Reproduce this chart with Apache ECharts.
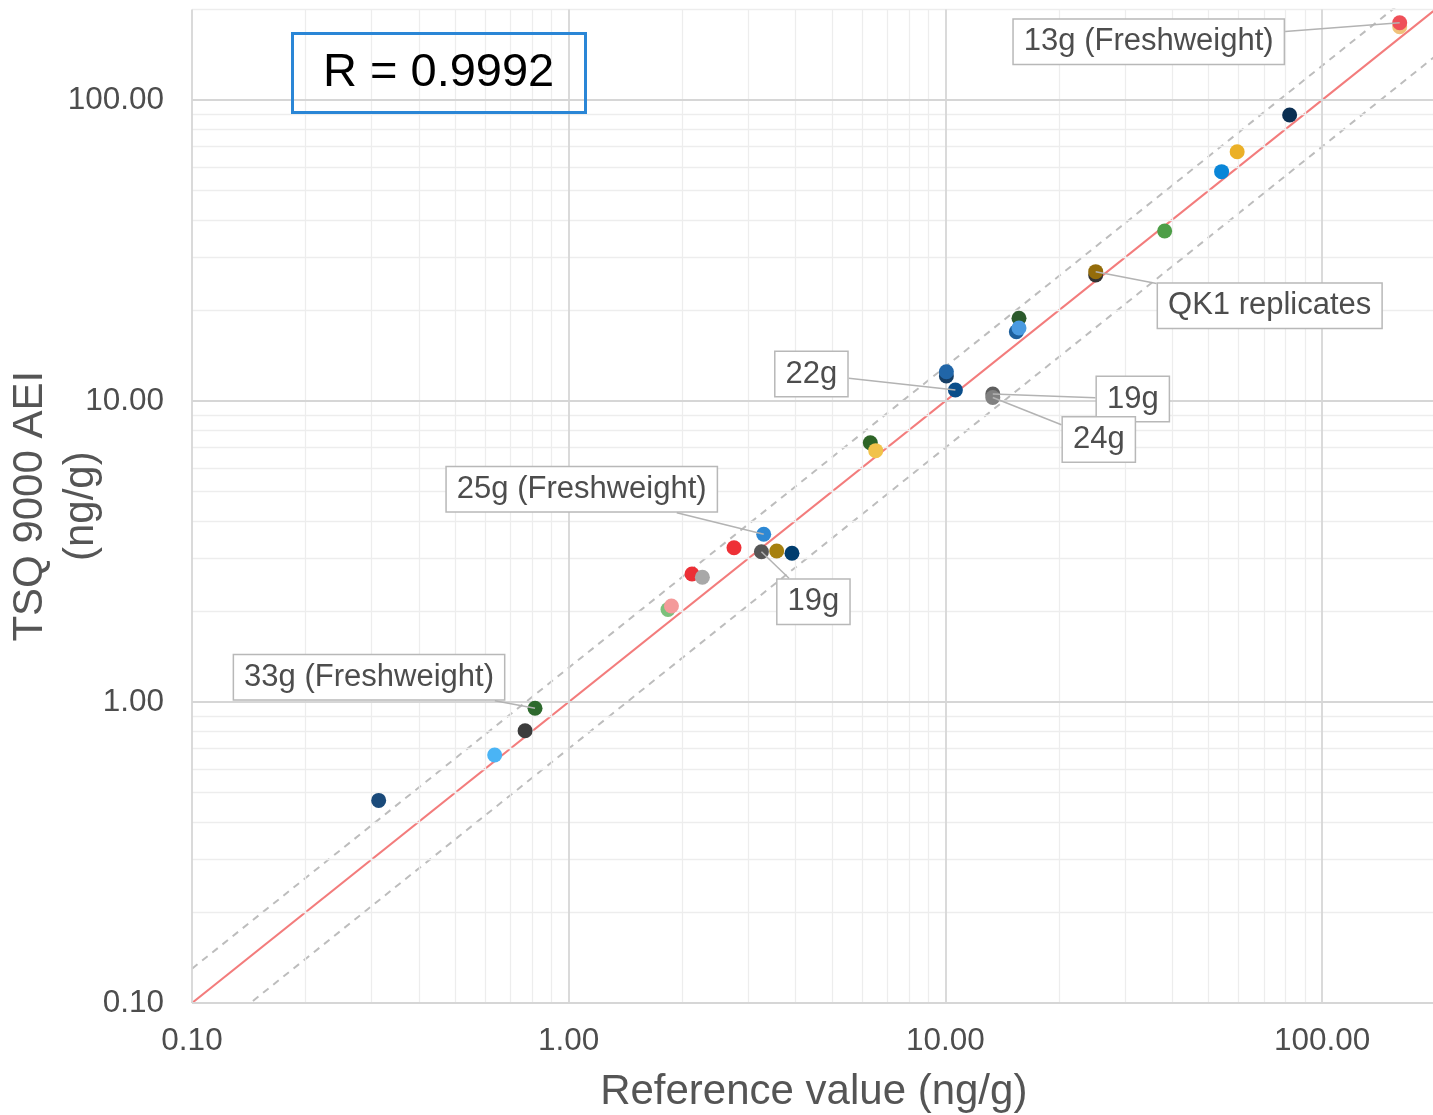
<!DOCTYPE html>
<html>
<head>
<meta charset="utf-8">
<title>TSQ 9000 AEI vs reference value</title>
<script src="https://cdn.jsdelivr.net/npm/echarts@6/dist/echarts.min.js"></script>
<style>
html, body { margin: 0; padding: 0; background: #fff; }
#chart { width: 1433px; height: 1115px; }
</style>
</head>
<body>
<div id="chart"></div>
<script>
// reference value (x) and TSQ 9000 AEI result (y), ng/g
var refValue = [0.313, 0.636, 0.766, 0.814, 1.835, 1.874, 2.125, 2.264, 2.747, 3.294,
    3.248, 3.566, 3.915, 6.32, 6.53, 10.06, 10.06, 10.63, 13.36, 13.36,
    15.43, 15.68, 15.68, 25.06, 25.06, 38.2, 54.1, 59.5, 82.0, 160.7, 160.7];
var aeiValue = [0.471, 0.667, 0.803, 0.953, 2.03, 2.084, 2.662, 2.596, 3.255, 3.607,
    3.158, 3.176, 3.119, 7.27, 6.84, 12.11, 12.51, 10.88, 10.55, 10.27,
    16.99, 18.83, 17.48, 26.22, 26.9, 36.7, 57.8, 67.3, 89.2, 175.2, 180.6];
var pointColors = ['#1a4a7a', '#4ab4f5', '#3c3c3c', '#2e6a2e', '#7cc07c', '#f49a9a', '#ec2f36', '#a8a8a8', '#ee3036', '#2d88d4',
    '#555555', '#a6800e', '#003d6e', '#2d6426', '#f1c24a', '#163f66', '#2166a8', '#0b4e8a', '#5e5e5e', '#808080',
    '#1d5f9c', '#2c5a2c', '#4a9ae0', '#333333', '#946c0a', '#4d9e47', '#0a86d8', '#ebb027', '#0b2f52', '#f0c27a', '#ef5059'];

// annotated points: index -> text
var pointLabels = {
    3: '33g (Freshweight)',
    9: '25g (Freshweight)',
    10: '19g',
    17: '22g',
    18: '19g',
    19: '24g',
    24: 'QK1 replicates',
    30: '13g (Freshweight)'
};
// where each annotation box sits relative to its point (px)
var labelShift = {
    3: [-166, -31],
    9: [-182, -45],
    10: [52, 50],
    17: [-144, -16],
    18: [140, 5],
    19: [106, 42],
    24: [174, 34],
    30: [-251, 19]
};

var majorTicks = [0.1, 1, 10, 100];
var minorTicks = [0.2, 0.3, 0.4, 0.5, 0.6, 0.7, 0.8, 0.9,
    2, 3, 4, 5, 6, 7, 8, 9,
    20, 30, 40, 50, 60, 70, 80, 90, 200];
var lineEnds = [0.1, 200];
var upperFactor = 1.3;
var lowerFactor = 0.7;
var rValue = 'R = 0.9992';

var font = '"Liberation Sans", Arial, sans-serif';
var myChart = echarts.init(document.getElementById('chart'));

var gridLines = [];
minorTicks.forEach(function (v) {
    var st = { color: '#ededed', width: 1.3, type: 'solid' };
    gridLines.push({ xAxis: v, lineStyle: st });
    gridLines.push({ yAxis: v, lineStyle: st });
});
majorTicks.forEach(function (v) {
    var st = { color: '#d6d6d6', width: 1.8, type: 'solid' };
    gridLines.push({ xAxis: v, lineStyle: st });
    gridLines.push({ yAxis: v, lineStyle: st });
});

var points = refValue.map(function (x, i) {
    var item = { value: [x, aeiValue[i]], itemStyle: { color: pointColors[i], opacity: 1 } };
    if (pointLabels[i]) {
        item.label = { show: true, formatter: pointLabels[i] };
    }
    return item;
});

function decadeLabel(v) {
    var l = Math.log10(v);
    return Math.abs(l - Math.round(l)) < 1e-6 ? v.toFixed(2) : '';
}

// move the box; remember a straight leader from the box edge to the point centre
var leaderGeom = {};
function placeLabel(params) {
    var s = labelShift[params.dataIndex];
    if (!s) return {};
    var lr = params.labelRect, r = params.rect;
    var px = r.x + r.width / 2, py = r.y + r.height / 2;
    var cx = lr.x + lr.width / 2 + s[0], cy = lr.y + lr.height / 2 + s[1];
    var vx = px - cx, vy = py - cy;
    var t = Math.min(
        vx ? (lr.width / 2) / Math.abs(vx) : Infinity,
        vy ? (lr.height / 2) / Math.abs(vy) : Infinity
    );
    leaderGeom[params.dataIndex] = [cx + vx * t, cy + vy * t, px, py];
    return { dx: s[0], dy: s[1] };
}

option = {
    animation: false,
    textStyle: { fontFamily: font },
    title: {
        text: rValue,
        left: 292,
        top: 33,
        borderColor: '#2a86d6',
        borderWidth: 3,
        padding: [15, 31],
        textStyle: { fontSize: 47, fontWeight: 'normal', color: '#000', lineHeight: 50, fontFamily: font }
    },
    grid: { left: 192, top: 9.4, width: 1243.5, height: 993.6, containLabel: false, outerBoundsMode: 'none' },
    xAxis: {
        type: 'log',
        logBase: 10,
        min: 0.1,
        max: 200,
        axisLine: { show: false },
        axisTick: { show: false },
        splitLine: { show: false },
        axisLabel: {
            formatter: decadeLabel,
            fontSize: 31.5,
            color: '#4d4d4d',
            margin: 22,
            showMinLabel: true,
            showMaxLabel: false
        },
        name: 'Reference value (ng/g)',
        nameLocation: 'middle',
        nameGap: 68,
        nameMoveOverlap: false,
        nameTextStyle: { fontSize: 42, color: '#555', fontFamily: font }
    },
    yAxis: {
        type: 'log',
        logBase: 10,
        min: 0.1,
        max: 200,
        axisLine: { show: false },
        axisTick: { show: false },
        splitLine: { show: false },
        axisLabel: {
            formatter: decadeLabel,
            fontSize: 31.5,
            color: '#4d4d4d',
            margin: 28,
            showMinLabel: true,
            showMaxLabel: false
        },
        name: 'TSQ 9000 AEI\n(ng/g)',
        nameLocation: 'middle',
        nameRotate: 90,
        nameGap: 85,
        nameMoveOverlap: false,
        nameTextStyle: { fontSize: 42, lineHeight: 51, color: '#555', fontFamily: font }
    },
    series: [
        {
            name: 'grid',
            type: 'line',
            data: [],
            z: 0,
            silent: true,
            markLine: {
                silent: true,
                symbol: 'none',
                label: { show: false },
                animation: false,
                data: gridLines
            }
        },
        {
            name: 'identity',
            type: 'line',
            data: lineEnds.map(function (x) { return [x, x]; }),
            symbol: 'none',
            z: 2,
            silent: true,
            lineStyle: { color: '#f37c7c', width: 2.2 }
        },
        {
            name: 'upper',
            type: 'line',
            data: lineEnds.map(function (x) { return [x, x * upperFactor]; }),
            symbol: 'none',
            z: 2,
            silent: true,
            lineStyle: { color: '#bdbdbd', width: 2, type: [7, 6] }
        },
        {
            name: 'lower',
            type: 'line',
            data: lineEnds.map(function (x) { return [x, x * lowerFactor]; }),
            symbol: 'none',
            z: 2,
            silent: true,
            lineStyle: { color: '#bdbdbd', width: 2, type: [7, 6] }
        },
        {
            name: 'samples',
            type: 'scatter',
            symbolSize: 15,
            z: 5,
            data: points,
            label: {
                show: false,
                position: 'inside',
                fontSize: 31,
                lineHeight: 34,
                color: '#4d4d4d',
                backgroundColor: '#fff',
                borderColor: '#b8b8b8',
                borderWidth: 1.5,
                padding: [5, 10, 5, 10],
                fontFamily: font
            },
            labelLine: { show: false },
            labelLayout: placeLabel
        }
    ]
};

myChart.setOption(option);

// leader lines, from the geometry the label layout produced
var leaders = Object.keys(leaderGeom).map(function (k) {
    var g = leaderGeom[k];
    return {
        type: 'line',
        z: 6,
        silent: true,
        shape: { x1: g[0], y1: g[1], x2: g[2], y2: g[3] },
        style: { stroke: '#b3b3b3', lineWidth: 1.5 }
    };
});
myChart.setOption({ graphic: leaders });

window.addEventListener('resize', function () {
    myChart.resize();
});
</script>
</body>
</html>
